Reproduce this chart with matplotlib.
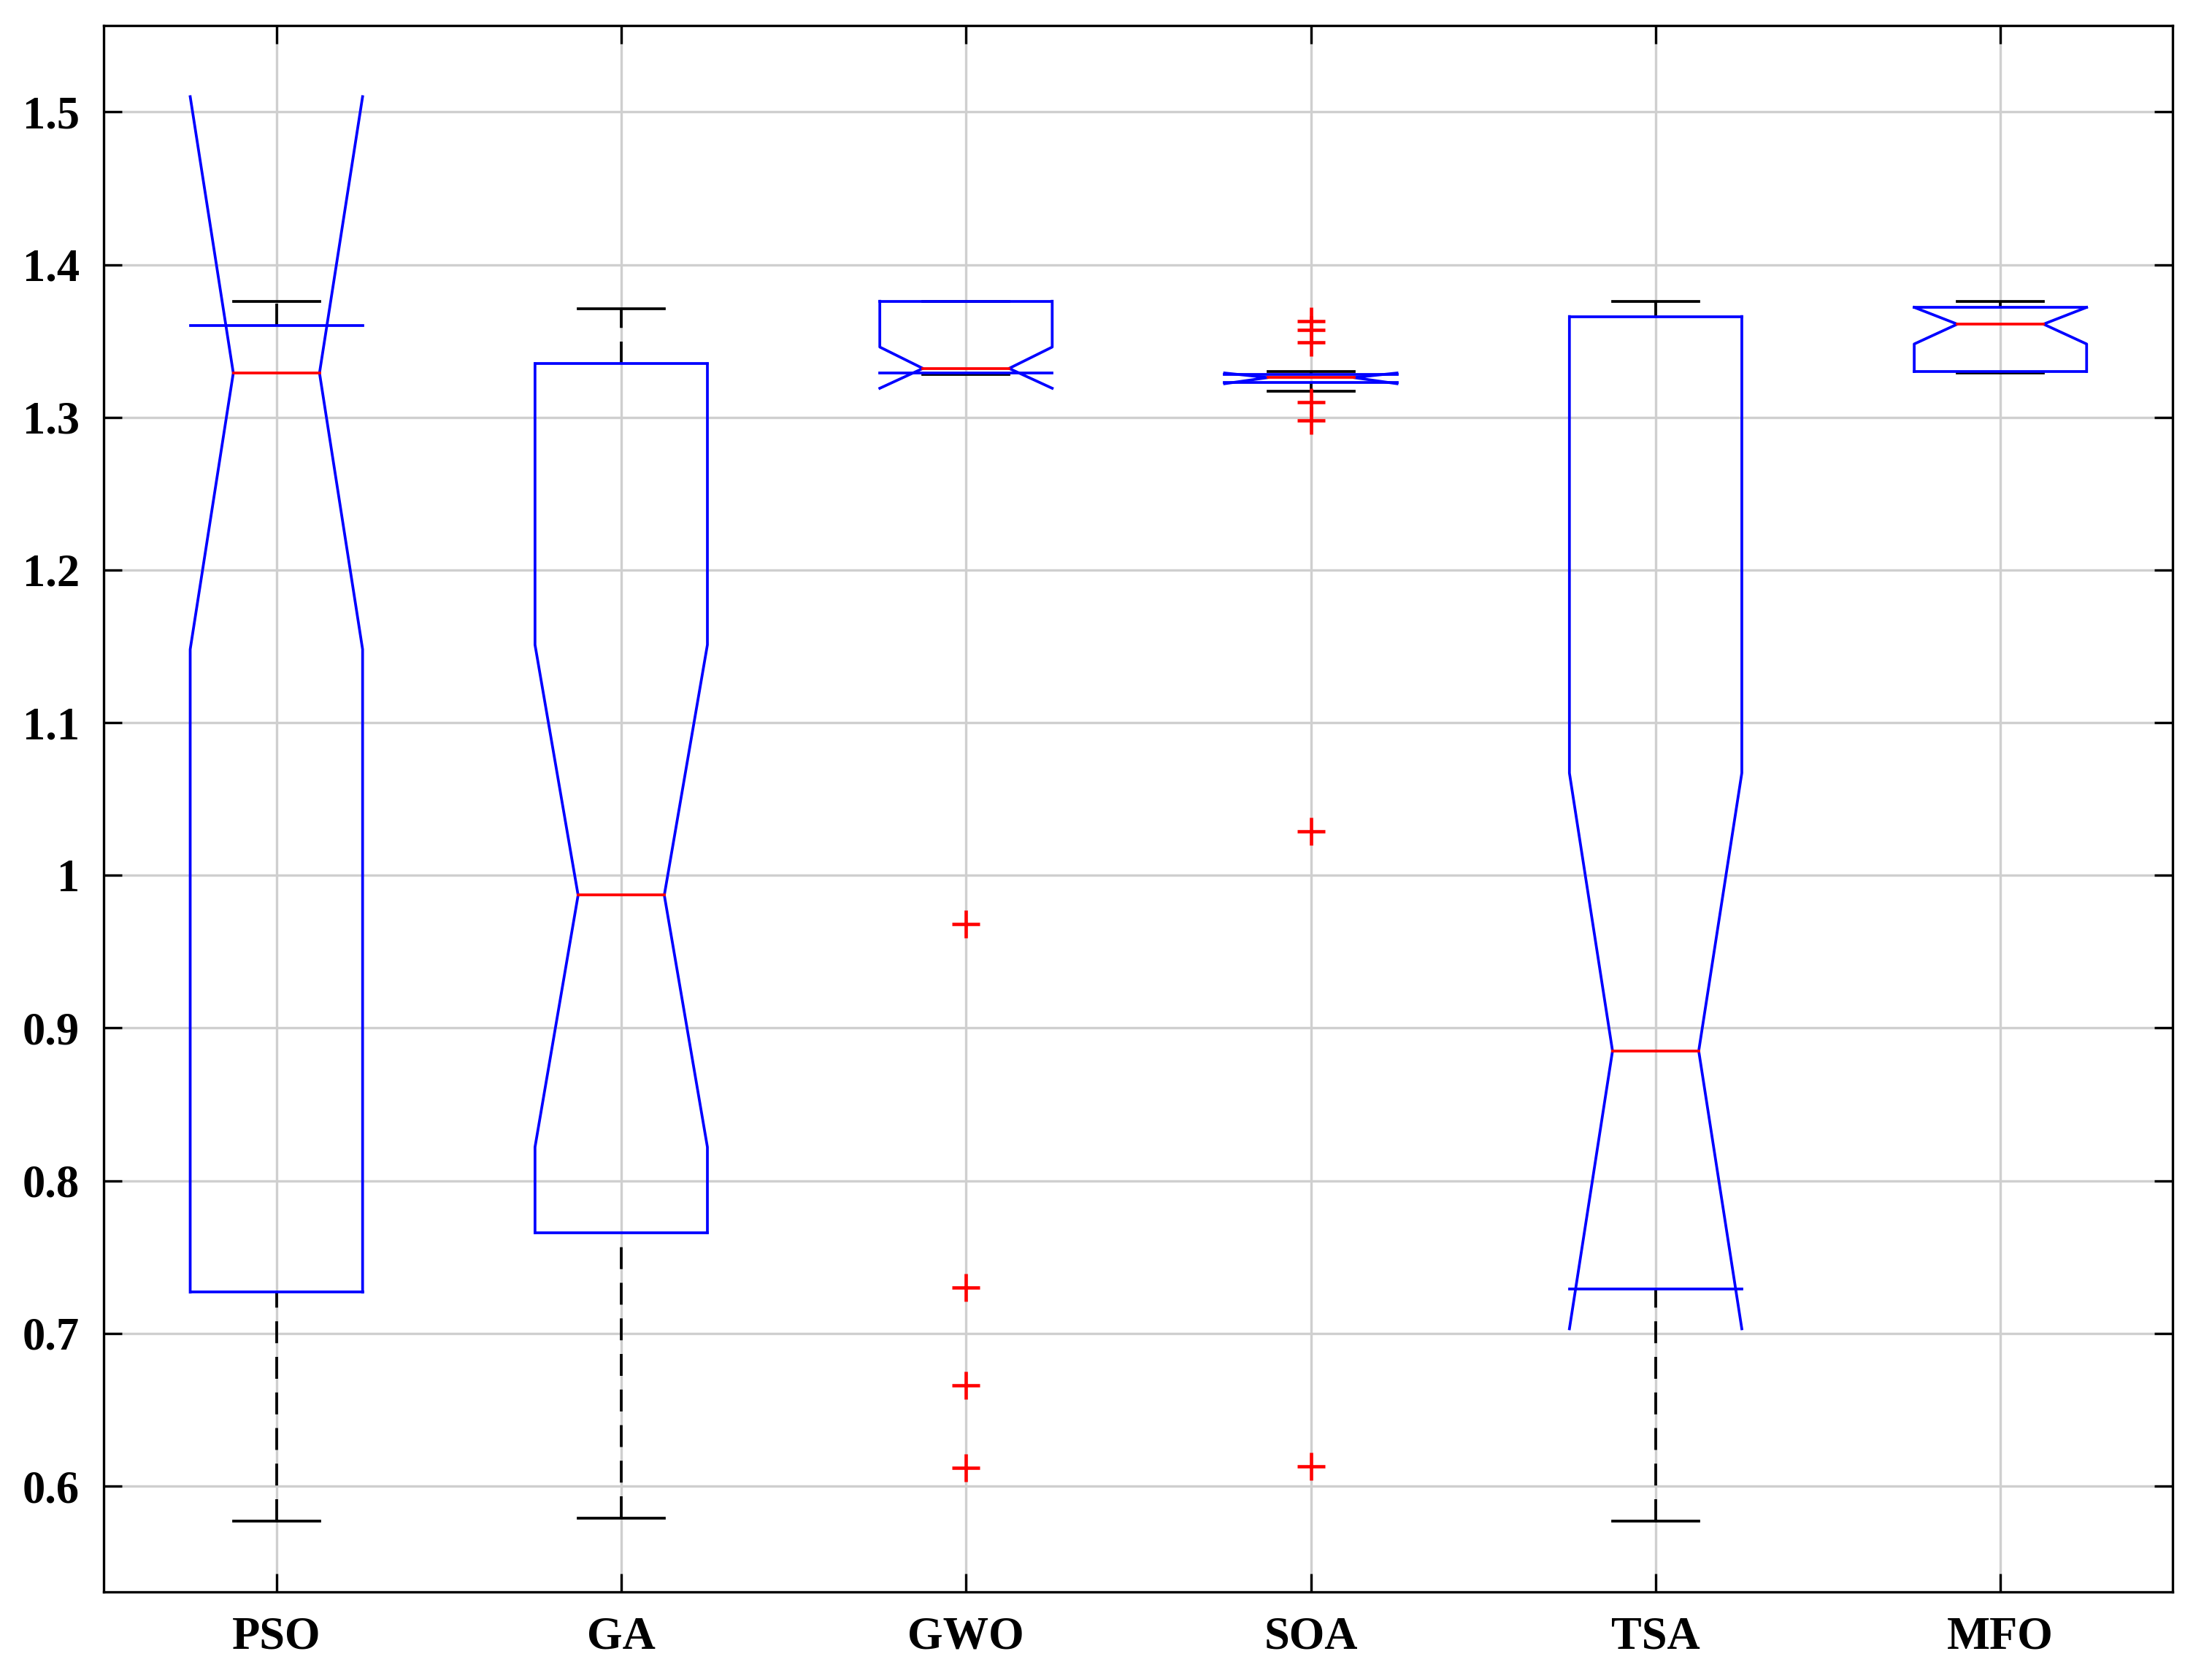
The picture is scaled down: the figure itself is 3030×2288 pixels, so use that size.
import numpy as np
import matplotlib.pyplot as plt

# algorithm names and box statistics
labels = ['PSO', 'GA', 'GWO', 'SOA', 'TSA', 'MFO']
q1 = [0.727, 0.766, 1.329, 1.323, 0.729, 1.330]
q3 = [1.360, 1.335, 1.376, 1.328, 1.366, 1.372]
medians = [1.329, 0.987, 1.332, 1.326, 0.885, 1.361]
notch_lo = [1.148, 0.822, 1.319, 1.322, 0.703, 1.348]
notch_hi = [1.510, 1.151, 1.346, 1.329, 1.067, 1.372]
whisk_lo = [0.577, 0.579, 1.328, 1.317, 0.577, 1.329]
whisk_hi = [1.376, 1.371, 1.376, 1.330, 1.376, 1.376]
outliers = [[], [], [0.968, 0.730, 0.666, 0.612],
            [1.363, 1.357, 1.349, 1.310, 1.298, 1.029, 0.613], [], []]

plt.rcParams['font.family'] = ['Liberation Serif', 'DejaVu Serif']
plt.rcParams['font.weight'] = 'bold'

fig = plt.figure(figsize=(10.103, 7.627), dpi=300)
ax = fig.add_axes([0.047, 0.0466, 0.935, 0.938])

hw = 0.25   # half box width
nw = 0.125  # half width at notch
for i in range(len(labels)):
    x = i + 1
    lo = min(q1[i], notch_lo[i])
    hi = max(q3[i], notch_hi[i])
    # left and right outlines (no horizontal line at notch extremes)
    for sgn in (-1, 1):
        xs = [x + sgn * hw, x + sgn * hw, x + sgn * nw, x + sgn * hw, x + sgn * hw]
        ys = [lo, notch_lo[i], medians[i], notch_hi[i], hi]
        ax.plot(xs, ys, color='blue', lw=0.9, zorder=3)
    ax.plot([x - hw, x + hw], [q1[i], q1[i]], color='blue', lw=0.9, zorder=3)
    ax.plot([x - hw, x + hw], [q3[i], q3[i]], color='blue', lw=0.9, zorder=3)
    ax.plot([x - nw, x + nw], [medians[i], medians[i]], color='red', lw=0.9, zorder=4)
    # whiskers
    ax.plot([x, x], [whisk_lo[i], q1[i]], color='black', lw=0.9, ls=(0, (8, 5)), zorder=2)
    ax.plot([x, x], [q3[i], whisk_hi[i]], color='black', lw=0.9, ls=(0, (8, 5)), zorder=2)
    ax.plot([x - nw, x + nw], [whisk_lo[i], whisk_lo[i]], color='black', lw=0.9, zorder=2)
    ax.plot([x - nw, x + nw], [whisk_hi[i], whisk_hi[i]], color='black', lw=0.9, zorder=2)
    if outliers[i]:
        ax.plot([x] * len(outliers[i]), outliers[i], '+', color='red', ms=9, mew=1.1, zorder=5)

ax.set_xlim(0.5, 6.5)
ax.set_ylim(0.5305, 1.5565)
ax.set_xticks(range(1, 7))
ax.set_xticklabels(labels)
ax.set_yticks(np.arange(0.6, 1.51, 0.1))
ax.set_yticklabels(['0.6', '0.7', '0.8', '0.9', '1', '1.1', '1.2', '1.3', '1.4', '1.5'])
ax.tick_params(direction='in', top=True, right=True, labelsize=15, length=6, width=0.8, pad=8)
ax.grid(True, color='#cfcfcf', lw=0.8, zorder=0)
ax.set_axisbelow(True)
for s in ax.spines.values():
    s.set_linewidth(0.8)

plt.savefig('out.png')
